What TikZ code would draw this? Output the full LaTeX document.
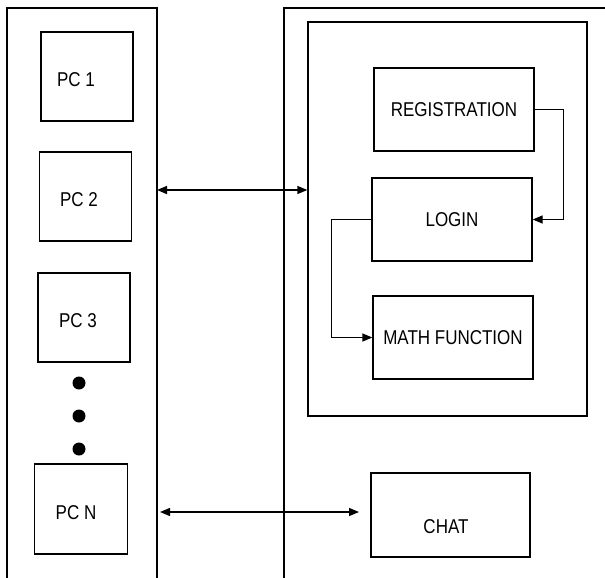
\documentclass[tikz,border=0pt]{standalone}
\usepackage{fontspec}
\setmainfont{Liberation Sans}[FakeStretch=0.85]
\usepackage{tikz}
\usetikzlibrary{arrows.meta,positioning}

\begin{document}
\begin{tikzpicture}[x=1pt, y=-1pt, line width=1.3pt,
	>={Triangle[length=10pt,width=8pt]},
	txt/.style={font=\fontsize{20}{24}\selectfont},
	box/.style={draw, fill=none, txt, minimum width=#1, minimum height=83pt, inner sep=0pt},
	pcbox/.style={draw, fill=none, minimum width=92pt, minimum height=89pt, inner sep=0pt},
	pclabel/.style={txt, yshift=-3.5pt},
	dot/.style={circle, fill, draw=none, inner sep=0pt, minimum size=13pt}]
	\useasboundingbox (0,0) rectangle (605,578);
	\draw (7,578) -- (7,8) -- (157,8) -- (157,578);
	\draw (284,578) -- (284,8) -- (605,8);
	\node [pcbox, label={[pclabel, xshift=-11pt]center:PC 1}] (pc1) at (87,76.5) {};
	\node [pcbox, label={[pclabel, xshift=-6.5pt]center:PC 2}] (pc2) at (85.5,196.5) {};
	\node [pcbox, label={[pclabel, xshift=-6pt]center:PC 3}] (pc3) at (84,317.5) {};
	\node [pcbox, minimum width=93pt, minimum height=90pt, label={[pclabel, xshift=-5pt]center:PC N}] (pcn) at (81,509) {};
	\node [dot] (d1) at (79,383) {};
	\node [dot] (d2) at (79,416) {};
	\node [dot] (d3) at (79,449) {};
	\node [draw, fill=none, minimum width=279pt, minimum height=394pt, inner sep=0pt] (server) at (447.5,219) {};
	\node [box=160pt] (reg) at (454,109.5) {REGISTRATION};
	\node [box=160pt] (login) at (452,219.5) {LOGIN};
	\node [box=160pt] (math) at (453,337.5) {MATH FUNCTION};
	\node [box=159pt, minimum height=84pt, label={[txt, xshift=-4.5pt, yshift=-11.5pt]center:CHAT}] (chat) at (450.5,515) {};
	\coordinate (lp2) at (157,190);
	\coordinate (lpn) at (160,512);
	\coordinate (chatin) at (359,512);
	\path [<->] (lp2) edge (lp2 -| server.west);
	\path [<->] (lpn) edge (chatin);
	\draw [->] (reg.east) -- ++(29,0) |- (login.east);
	\draw [->] (login.west) -- ++(-40,0) |- (math.west);
\end{tikzpicture}
\end{document}
